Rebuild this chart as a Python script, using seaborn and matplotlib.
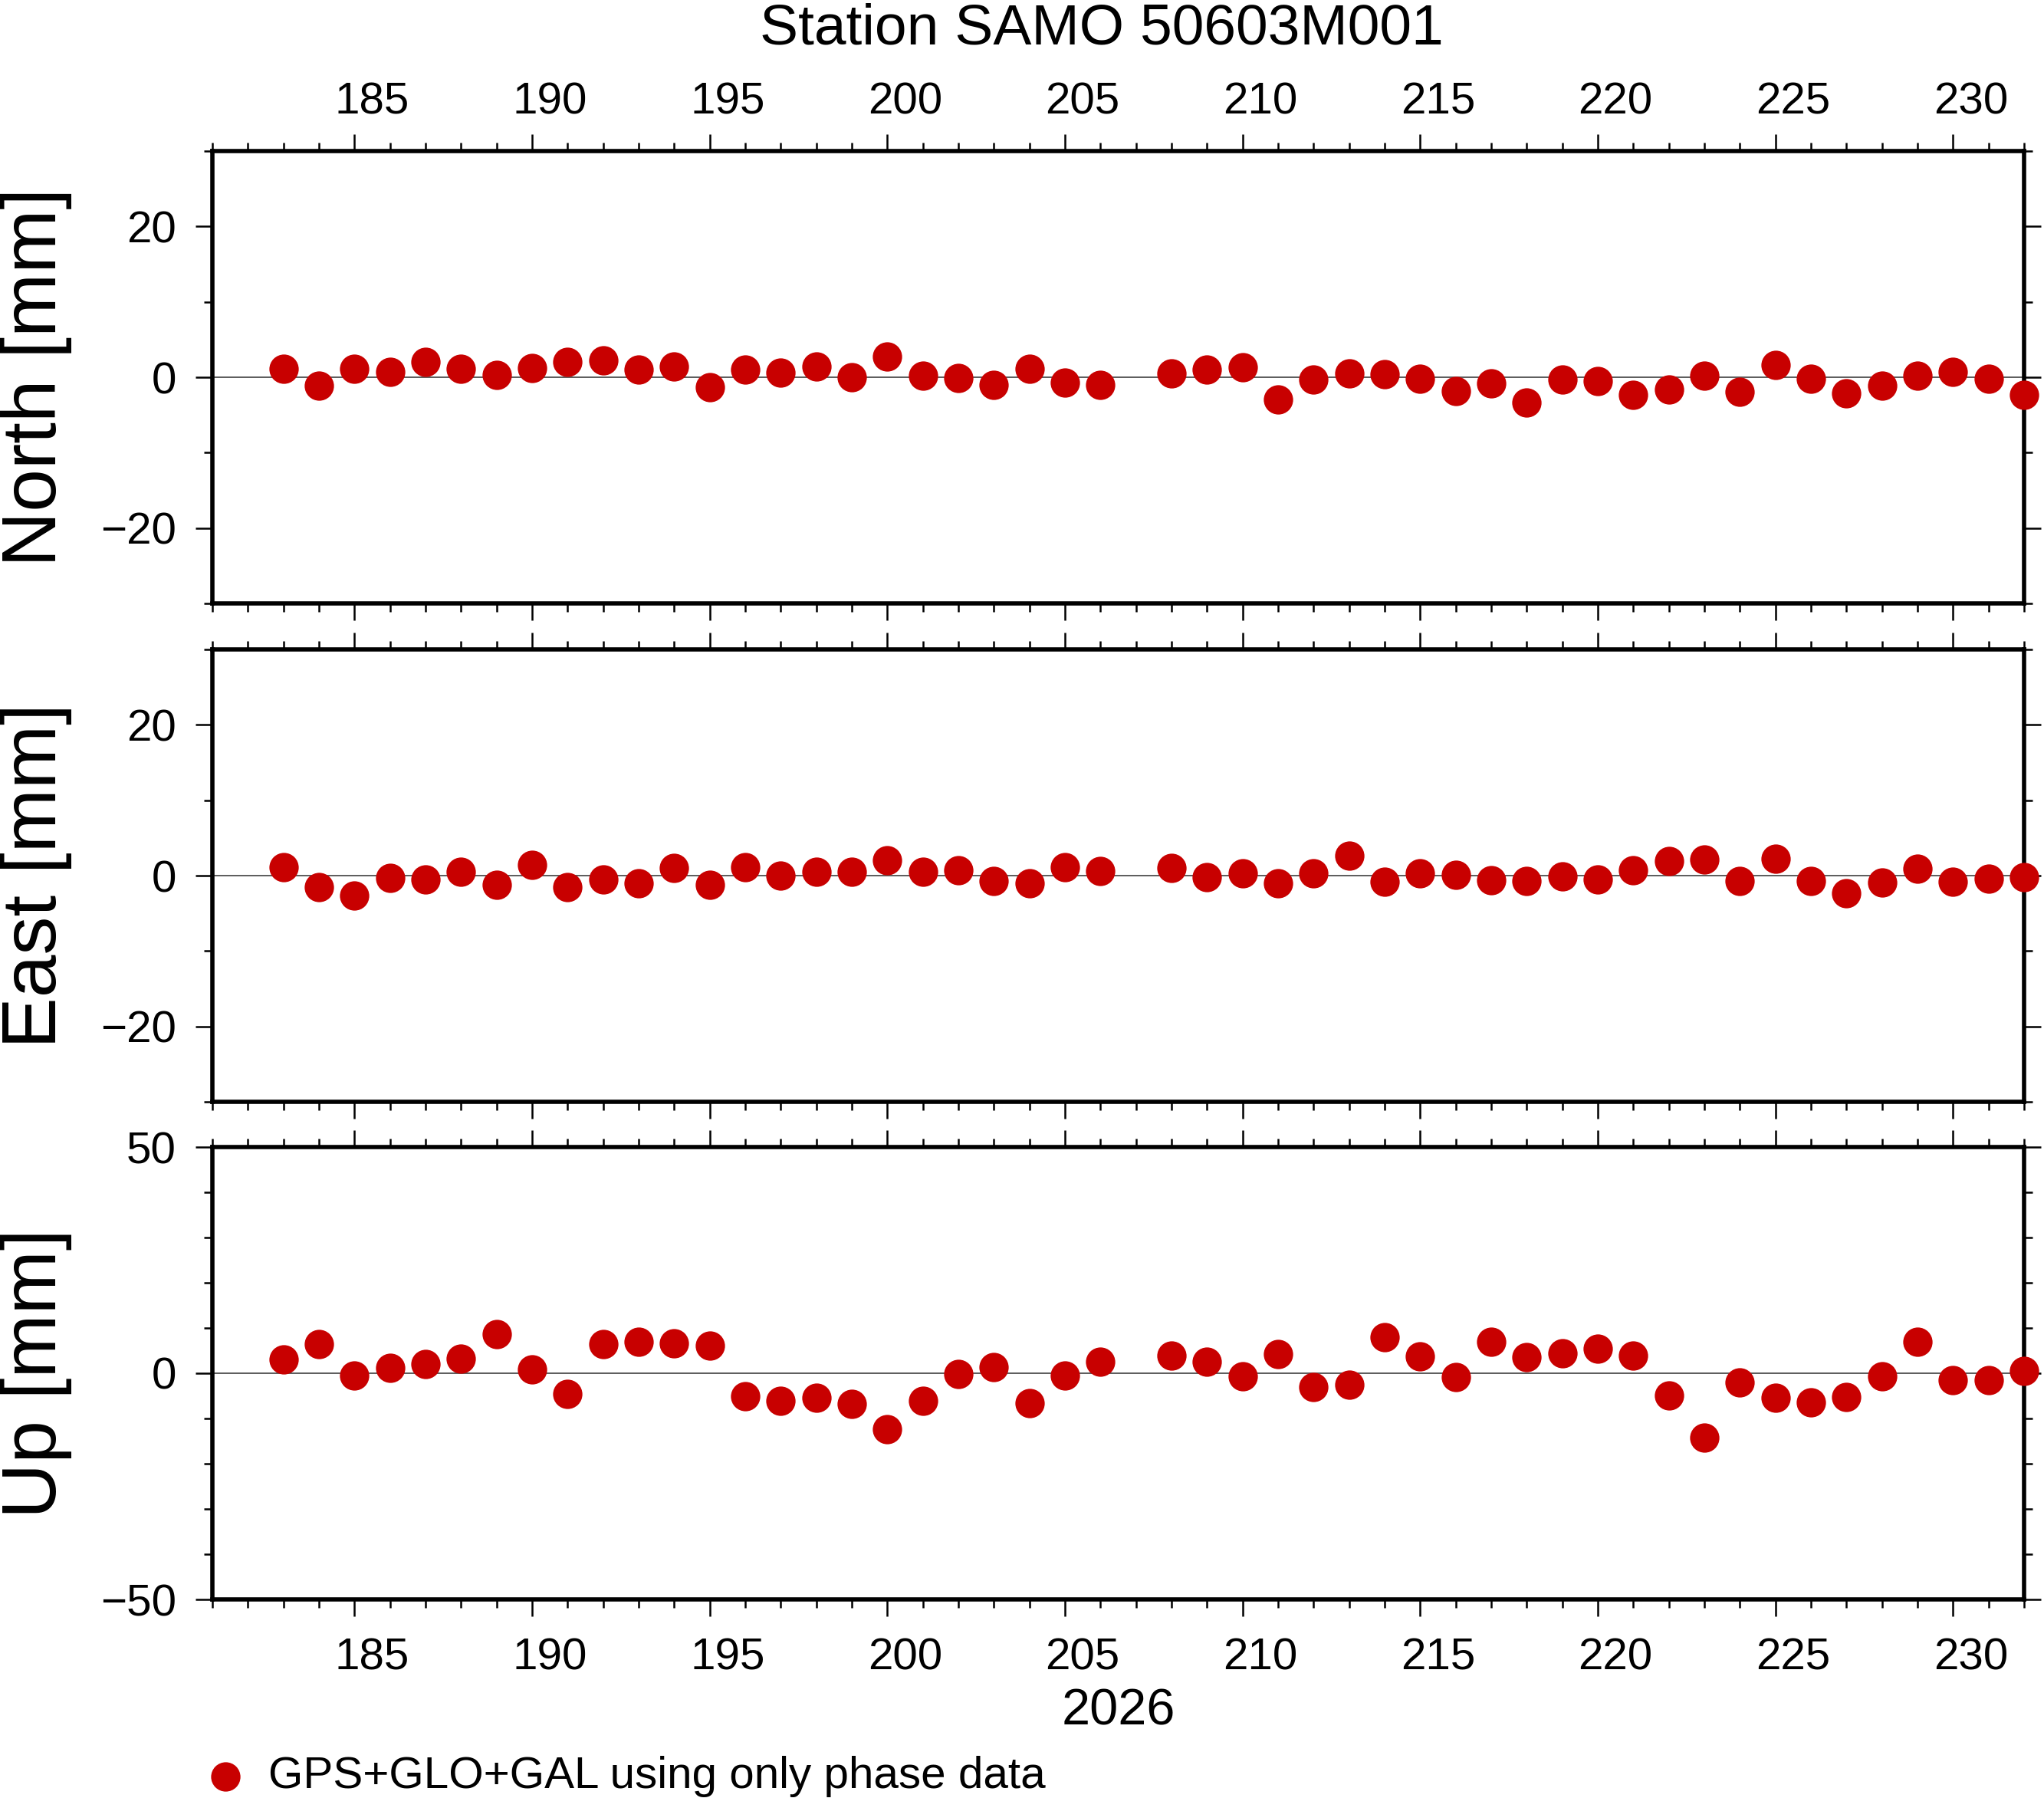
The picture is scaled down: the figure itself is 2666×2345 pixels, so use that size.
import matplotlib
matplotlib.use('Agg')
import matplotlib.pyplot as plt
import matplotlib.transforms as mtrans
from matplotlib.ticker import MultipleLocator
import seaborn as sns
import pandas as pd

#-------------------
# data (day of year 2026, offsets in mm)
#-------------------

days = [183, 184, 185, 186, 187, 188, 189, 190, 191, 192, 193, 194, 195, 196, 197, 198,
        199, 200, 201, 202, 203, 204, 205, 206,
        208, 209, 210, 211, 212, 213, 214, 215, 216, 217, 218, 219, 220, 221, 222, 223,
        224, 225, 226, 227, 228, 229, 230, 231, 232]

north = [1.1, -1.1, 1.1, 0.7, 2.0, 1.1, 0.3, 1.2, 2.0, 2.2, 1.0, 1.4, -1.35, 1.0, 0.6, 1.4,
         0.0, 2.7, 0.2, -0.1, -1.0, 1.1, -0.7, -1.0,
         0.5, 1.0, 1.3, -2.9, -0.3, 0.5, 0.4, -0.2, -1.85, -0.8, -3.35, -0.3, -0.5, -2.3, -1.6, 0.2,
         -1.9, 1.6, -0.2, -2.1, -1.1, 0.2, 0.7, -0.2, -2.3]

east = [1.1, -1.5, -2.6, -0.3, -0.5, 0.5, -1.2, 1.4, -1.5, -0.5, -1.0, 1.0, -1.2, 1.1, 0.0, 0.5,
        0.5, 2.0, 0.5, 0.7, -0.7, -1.0, 1.1, 0.6,
        1.0, -0.2, 0.3, -1.0, 0.3, 2.6, -0.8, 0.3, 0.1, -0.6, -0.7, -0.1, -0.5, 0.7, 1.9, 2.1,
        -0.7, 2.2, -0.7, -2.3, -0.9, 0.9, -0.8, -0.4, -0.2]

up = [3.1, 6.5, -0.5, 1.2, 2.0, 3.2, 8.6, 0.9, -4.5, 6.4, 6.9, 6.6, 6.1, -5.1, -6.1, -5.4,
      -6.7, -12.3, -6.1, -0.2, 1.4, -6.6, -0.5, 2.6,
      3.9, 2.6, -0.7, 4.2, -3.0, -2.5, 7.9, 3.8, -0.8, 6.9, 3.5, 4.4, 5.4, 3.9, -4.9, -14.3,
      -2.0, -5.5, -6.4, -5.2, -0.6, 6.9, -1.6, -1.6, 0.5]

panel_names = ['North [mm]', 'East [mm]', 'Up [mm]']
panel_limits = [(-30, 30), (-30, 30), (-50, 50)]
panel_major = [20, 20, 50]
series_label = 'GPS+GLO+GAL using only phase data'
station_title = 'Station SAMO 50603M001'
year_label = '2026'

#-------------------
# style
#-------------------

sns.set_style('ticks')
plt.rcParams['font.family'] = ['Liberation Sans', 'DejaVu Sans']
plt.rcParams['text.color'] = 'black'
plt.rcParams['axes.labelcolor'] = 'black'
plt.rcParams['axes.edgecolor'] = 'black'
plt.rcParams['xtick.color'] = 'black'
plt.rcParams['ytick.color'] = 'black'
dot_color = '#c80000'
W, H, DPI = 2666, 2345, 200

df = pd.DataFrame({'day': days, 'North [mm]': north, 'East [mm]': east, 'Up [mm]': up})

fig = plt.figure(figsize=(W / DPI, H / DPI), dpi=DPI)

left, right = 277 / W, 2640 / W
rows_px = [(197, 787), (847, 1437), (1496, 2086)]

# half a day, in inches: GMT puts day labels in the middle of the interval
half_day = (right - left) * W / DPI / (232 - 181) / 2
shift_top = mtrans.ScaledTranslation(half_day, 0, fig.dpi_scale_trans)
shift_bottom = mtrans.ScaledTranslation(half_day, -0.065, fig.dpi_scale_trans)

axes = []
for i, (name, lim, major) in enumerate(zip(panel_names, panel_limits, panel_major)):
    top_px, bot_px = rows_px[i]
    ax = fig.add_axes([left, 1 - bot_px / H, right - left, (bot_px - top_px) / H])
    ax.axhline(0, color='0.25', lw=0.6, zorder=1)
    sns.scatterplot(data=df, x='day', y=name, ax=ax, color=dot_color, s=190,
                    linewidth=0, clip_on=False, zorder=3,
                    label=series_label if i == 2 else None, legend=False)
    ax.set_xlim(181, 232)
    ax.set_ylim(*lim)
    ax.xaxis.set_major_locator(MultipleLocator(5))
    ax.xaxis.set_minor_locator(MultipleLocator(1))
    ax.yaxis.set_major_locator(MultipleLocator(major))
    ax.yaxis.set_minor_locator(MultipleLocator(10))
    for sp in ax.spines.values():
        sp.set_linewidth(2.0)
        sp.set_visible(True)
    ax.tick_params(axis='both', which='both', direction='out', top=True, bottom=True,
                   left=True, right=True, width=0.9, labelsize=21, colors='black')
    ax.tick_params(axis='both', which='major', length=8)
    ax.tick_params(axis='both', which='minor', length=4)
    ax.tick_params(axis='x', which='major', pad=5,
                   labeltop=(i == 0), labelbottom=(i == 2))
    ax.tick_params(axis='y', which='major', pad=9, labelleft=True, labelright=False)
    ax.set_xlabel('')
    ax.set_ylabel(name, fontsize=36)
    ax.yaxis.set_label_coords(-0.0774, 0.5)
    for tick in ax.xaxis.get_major_ticks():
        tick.label1.set_transform(tick.label1.get_transform() + shift_bottom)
        tick.label2.set_transform(tick.label2.get_transform() + shift_top)
    axes.append(ax)

axes[2].set_xlabel(year_label, fontsize=24)
axes[2].xaxis.set_label_coords(0.5, -0.196)

fig.text(0.539, 1 - 57 / H, station_title, fontsize=27, ha='center', va='baseline')

handles, labels = axes[2].get_legend_handles_labels()
fig.legend(handles, labels, loc='center left', bbox_to_anchor=(265 / W, 1 - 2317 / H),
           frameon=False, fontsize=21, handlelength=1.0, handletextpad=0.45,
           borderpad=0, borderaxespad=0, scatterpoints=1)

fig.savefig('out.png', dpi=DPI)
